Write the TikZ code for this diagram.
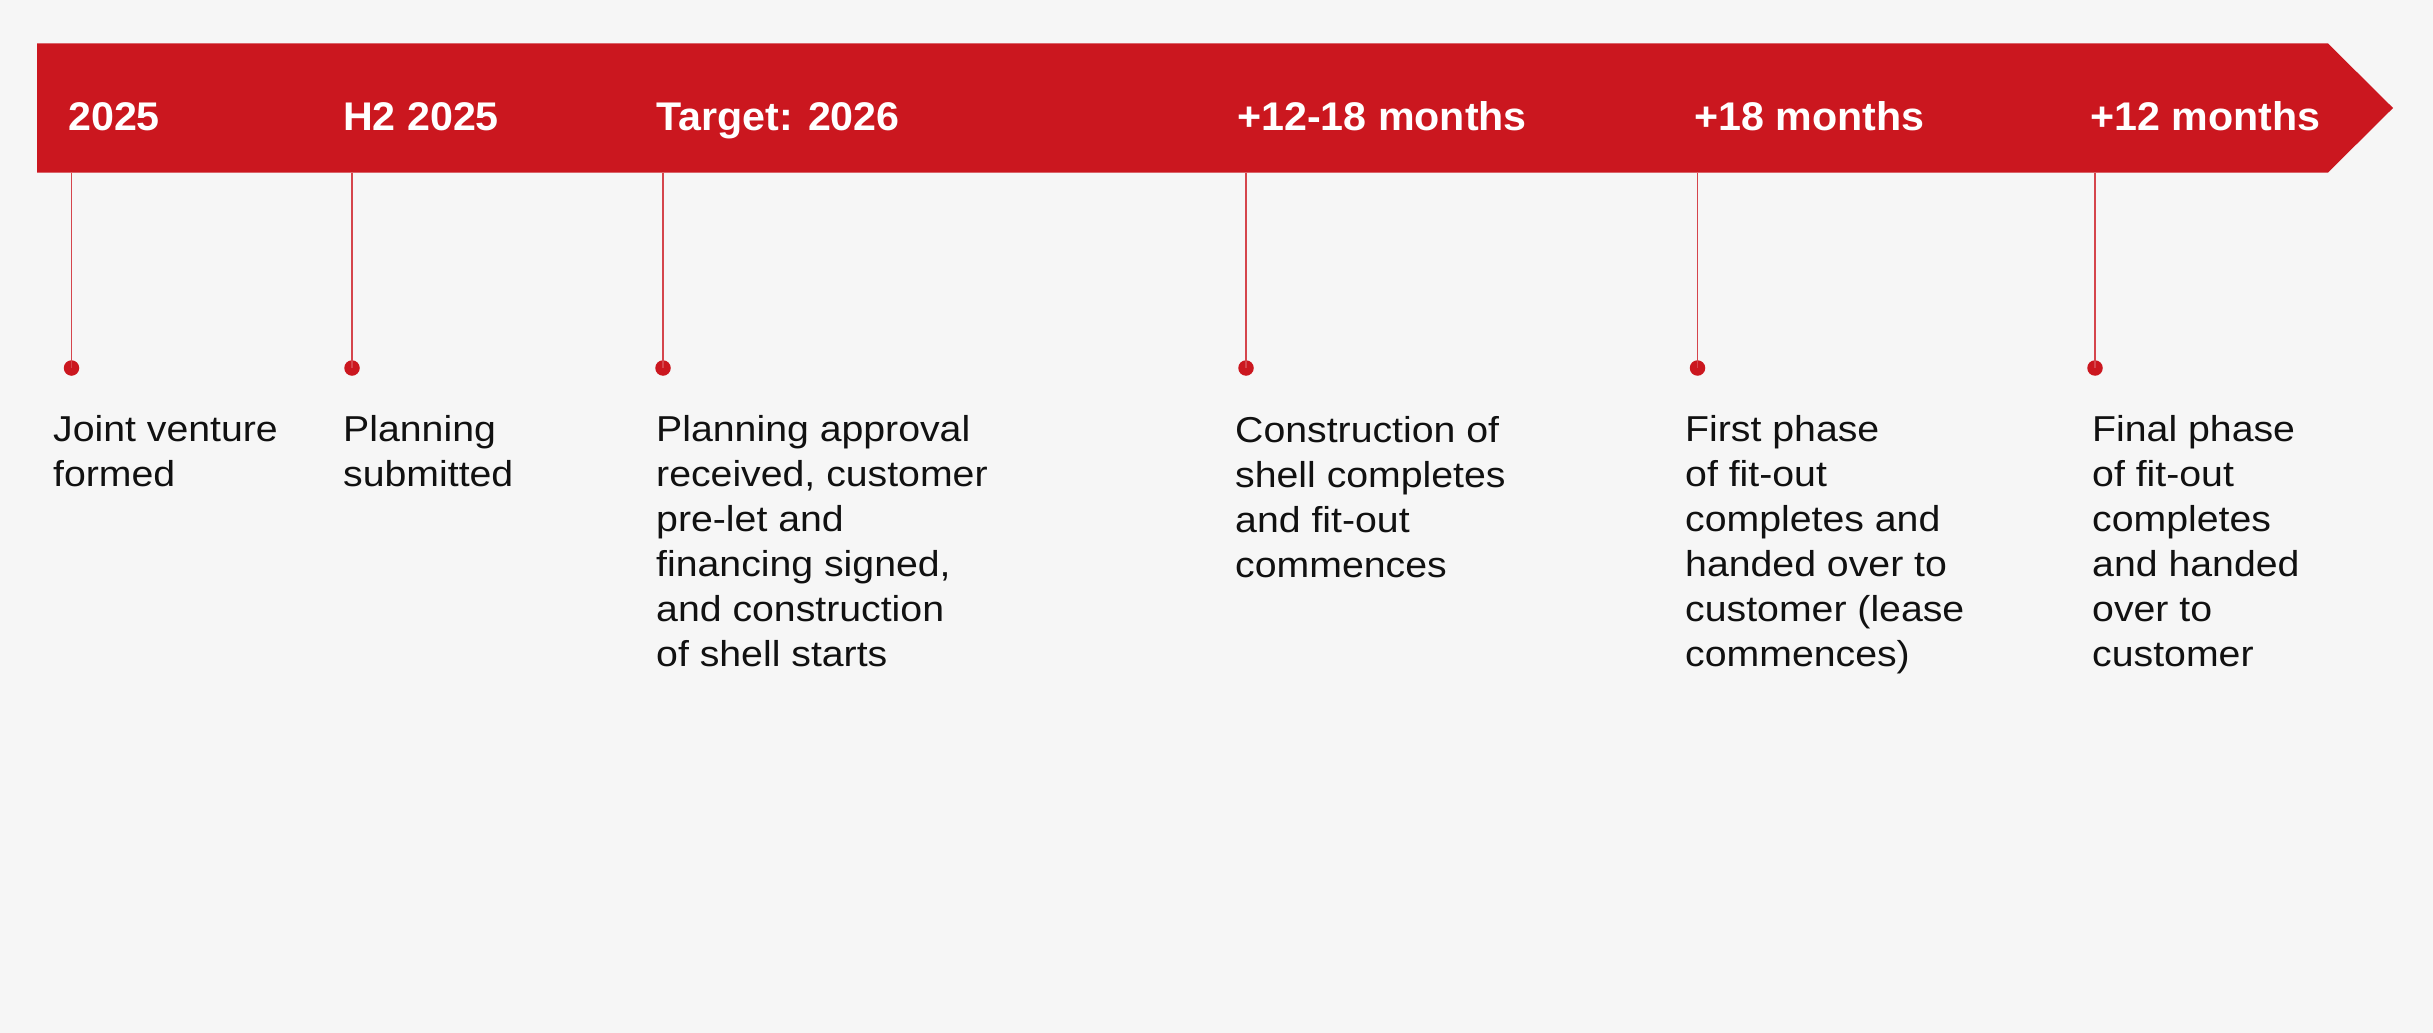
\documentclass[tikz,border=0pt]{standalone}
\usepackage{fontspec}
\setmainfont{Liberation Sans}
\newfontfamily\descfont[FakeStretch=1.09]{Liberation Sans}
\newfontfamily\yearfont[FakeStretch=1.03]{Liberation Sans}
\definecolor{bg}{HTML}{F6F6F6}
\definecolor{brand}{HTML}{CB171F}
\definecolor{ink}{HTML}{111111}
\tikzset{
  yearlbl/.style={anchor=base west, inner sep=0pt, text=white, font=\yearfont\fontsize{40}{48}\selectfont\bfseries},
  desc/.style={anchor=base west, inner sep=0pt, text=ink, align=left, font=\descfont\fontsize{36}{45}\selectfont},
  dotnode/.style={circle, fill=brand, inner sep=0pt, minimum size=15.5pt},
  stem/.style={draw=brand!80, line width=1.5pt}
}
\begin{document}
\begin{tikzpicture}[x=1pt,y=-1pt]
\fill[bg] (0,0) rectangle (2433,1033);
\useasboundingbox (0,0) rectangle (2433,1033);
% banner
\fill[brand] (37,43.5) -- (2328,43.5) -- (2393,108) -- (2328,172.5) -- (37,172.5) -- cycle;
% year labels
\node[yearlbl] (y1) at (68,130) {2025};
\node[yearlbl] (y2) at (343,130) {H2 2025};
\node[yearlbl] (y3) at (656,130) {Target: 2026};
\node[yearlbl] (y4) at (1237,130) {+12-18 months};
\node[yearlbl] (y5) at (1694,130) {+18 months};
\node[yearlbl] (y6) at (2090,130) {+12 months};
% stems
\coordinate (t1) at (71.5,172.5);
\coordinate (t2) at (352,172.5);
\coordinate (t3) at (663,172.5);
\coordinate (t4) at (1246,172.5);
\coordinate (t5) at (1697.5,172.5);
\coordinate (t6) at (2095,172.5);
\node[dotnode] (d1) at (71.5,368) {};
\node[dotnode] (d2) at (352,368) {};
\node[dotnode] (d3) at (663,368) {};
\node[dotnode] (d4) at (1246,368) {};
\node[dotnode] (d5) at (1697.5,368) {};
\node[dotnode] (d6) at (2095,368) {};
\foreach \i in {1,...,6} \draw[stem] (t\i) -- (d\i.center);
% descriptions (anchored at the baseline of the last line; first baseline at y=441)
\node[desc] (x1) at (53,486) {Joint venture\\formed};
\node[desc] (x2) at (343,486) {Planning\\submitted};
\node[desc] (x3) at (656,666) {Planning approval\\received, customer\\pre-let and\\financing signed,\\and construction\\of shell starts};
\node[desc] (x4) at (1235,577) {Construction of\\shell completes\\and fit-out\\commences};
\node[desc] (x5) at (1685,666) {First phase\\of fit-out\\completes and\\handed over to\\customer (lease\\commences)};
\node[desc] (x6) at (2092,666) {Final phase\\of fit-out\\completes\\and handed\\over to\\customer};
\end{tikzpicture}
\end{document}
